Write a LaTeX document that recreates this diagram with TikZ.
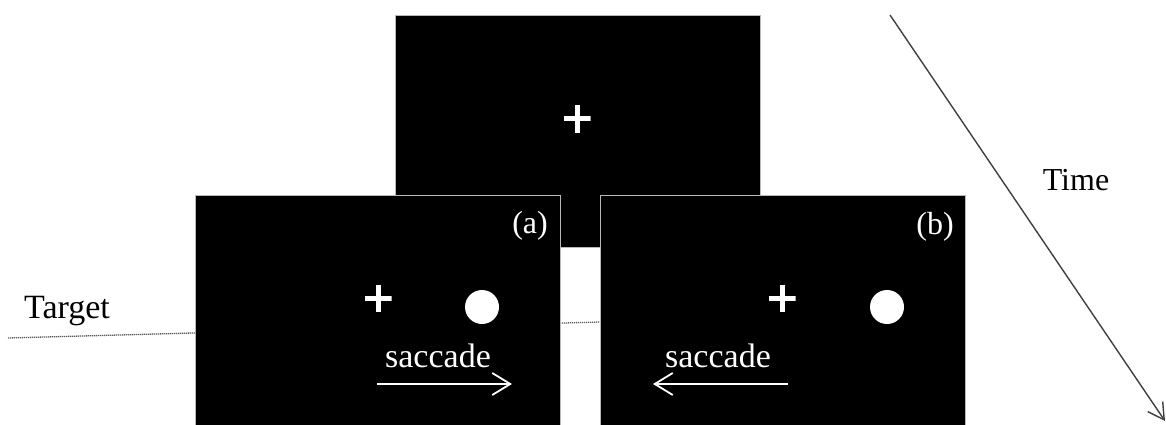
\documentclass[tikz,border=0pt]{standalone}
\usepackage{fontspec}
\setmainfont{Liberation Serif}
\usetikzlibrary{arrows.meta}

\tikzset{
  screen/.style={fill=black, draw=gray!55, line width=1pt,
    minimum width=365pt, minimum height=232pt, inner sep=0pt, anchor=north west},
  fixation/.style={minimum size=27pt, inner sep=0pt,
    path picture={\draw[white, line width=5pt]
      (path picture bounding box.north) -- (path picture bounding box.south)
      (path picture bounding box.west) -- (path picture bounding box.east);}},
  stimulus/.style={circle, fill=white, minimum size=34pt, inner sep=0pt},
  boxlabel/.style={text=white, font=\fontsize{32}{38}\selectfont, inner sep=0pt},
  caption/.style={text=black, font=\fontsize{34}{40}\selectfont, inner sep=0pt},
  saccadetext/.style={text=white, font=\fontsize{34}{40}\selectfont, inner sep=0pt, anchor=base},
  saccadearrow/.style={draw=white, line width=1.8pt, -{Straight Barb[length=18pt, width=22pt]}},
  timearrow/.style={draw=black!75, line width=1.4pt, -{Straight Barb[length=16pt, width=18pt]}},
  targetline/.style={draw=black!65, line width=1.3pt, dash pattern=on 1.2pt off 0.8pt}
}

\begin{document}
\begin{tikzpicture}[x=1pt, y=-1pt]
  \useasboundingbox (0,0) rectangle (1166,425);
  \clip (0,0) rectangle (1166,425);

  % target line behind the screens
  \coordinate (tl0) at (8,338);
  \coordinate (tl1) at (600,322);
  \draw[targetline] (tl0) -- (tl1);
  \node[caption] (target) at (67,311) {Target};

  % fixation screen
  \node[screen] (fix) at (395,15) {};
  \node[fixation] (fixcross) at (577,119) {};

  % screen (a)
  \node[screen] (scra) at (195,195) {};
  \node[boxlabel] (la) at (530,226) {(a)};
  \node[fixation] (crossa) at (378,298) {};
  \node[stimulus] (dota) at (482,307) {};
  \node[saccadetext] (sa) at (438,367) {saccade};
  \coordinate (aa0) at (377,384);
  \coordinate (aa1) at (512,384);
  \draw[saccadearrow] (aa0) -- (aa1);

  % screen (b)
  \node[screen] (scrb) at (600,195) {};
  \node[boxlabel] (lb) at (935,227) {(b)};
  \node[fixation] (crossb) at (782,298) {};
  \node[stimulus] (dotb) at (887,307) {};
  \node[saccadetext] (sb) at (718,367) {saccade};
  \coordinate (ba0) at (788,384);
  \coordinate (ba1) at (653,384);
  \draw[saccadearrow] (ba0) -- (ba1);

  % time axis
  \coordinate (t0) at (890,15);
  \coordinate (t1) at (1165,421);
  \draw[timearrow] (t0) -- (t1);
  \node[caption, font=\fontsize{32}{38}\selectfont] (time) at (1076,180) {Time};
\end{tikzpicture}
\end{document}
